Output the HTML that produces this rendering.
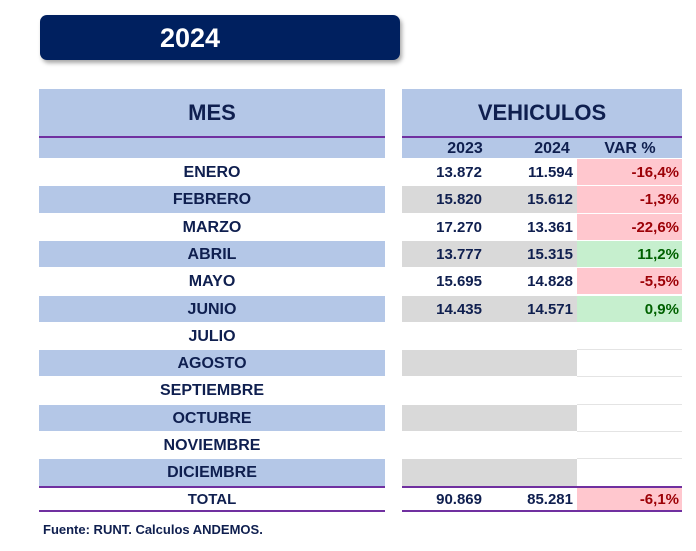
<!DOCTYPE html>
<html><head><meta charset="utf-8"><style>
*{margin:0;padding:0;box-sizing:border-box}
body{width:696px;height:551px;background:#fff;position:relative;overflow:hidden;font-family:"Liberation Sans",sans-serif;font-weight:bold;color:#0f1f4f}
div{position:absolute}
.c{text-align:center}
.r{text-align:right}
</style></head><body>
<div style="left:40px;top:15px;width:360px;height:45px;background:#00205f;border-radius:7px;box-shadow:2px 3px 4px rgba(0,0,0,.35)"></div>
<div style="left:150px;top:20px;width:80px;height:36px;color:#fff;font-size:27px;line-height:36px" class="c">2024</div>

<div style="left:39px;top:89px;width:346px;height:69px;background:#b4c7e7"></div>
<div style="left:39px;top:136px;width:346px;height:2px;background:#7030a0"></div>
<div style="left:39px;top:95px;width:346px;font-size:22px;line-height:36px" class="c">MES</div>

<div style="left:402px;top:89px;width:280px;height:69px;background:#b4c7e7"></div>
<div style="left:402px;top:136px;width:280px;height:2px;background:#7030a0"></div>
<div style="left:402px;top:95px;width:280px;font-size:22px;line-height:36px" class="c">VEHICULOS</div>
<div style="left:425px;top:139px;width:80px;font-size:16px;line-height:20px" class="c">2023</div>
<div style="left:512px;top:139px;width:80px;font-size:16px;line-height:20px" class="c">2024</div>
<div style="left:590px;top:139px;width:80px;font-size:16px;line-height:20px" class="c">VAR %</div>

<div id="rows"></div>
<script>
var m=["ENERO","FEBRERO","MARZO","ABRIL","MAYO","JUNIO","JULIO","AGOSTO","SEPTIEMBRE","OCTUBRE","NOVIEMBRE","DICIEMBRE"];
var d=[["13.872","11.594","-16,4%",0],["15.820","15.612","-1,3%",0],["17.270","13.361","-22,6%",0],["13.777","15.315","11,2%",1],["15.695","14.828","-5,5%",0],["14.435","14.571","0,9%",1]];
var h="",H=27.3,y0=159;
for(var i=0;i<12;i++){var y=y0+i*H;
 if(i%2==1){h+='<div style="left:39px;top:'+y+'px;width:346px;height:'+(H-1)+'px;background:#b4c7e7"></div>';
  h+='<div style="left:402px;top:'+y+'px;width:175px;height:'+(H-1)+'px;background:#d9d9d9"></div>';}
 h+='<div class="c" style="left:39px;top:'+y+'px;width:346px;font-size:16px;line-height:'+H+'px">'+m[i]+'</div>';
 if(i<6){var r=d[i];
  h+='<div style="left:577px;top:'+y+'px;width:105px;height:'+(H-1)+'px;background:'+(r[3]?'#c6efce':'#ffc7ce')+'"></div>';
  h+='<div class="r" style="left:402px;top:'+y+'px;width:80px;font-size:15px;line-height:'+H+'px">'+r[0]+'</div>';
  h+='<div class="r" style="left:490px;top:'+y+'px;width:83px;font-size:15px;line-height:'+H+'px">'+r[1]+'</div>';
  h+='<div class="r" style="left:577px;top:'+y+'px;width:102px;font-size:15px;line-height:'+H+'px;color:'+(r[3]?'#006100':'#9c0006')+'">'+r[2]+'</div>';}
 else {h+='<div style="left:577px;top:'+(y+H-1)+'px;width:105px;height:1px;background:#e4e4e4"></div>';}
}
document.getElementById('rows').outerHTML=h;
</script>
<div style="left:39px;top:486px;width:346px;height:2px;background:#7030a0"></div>
<div style="left:402px;top:486px;width:280px;height:2px;background:#7030a0"></div>
<div style="left:577px;top:488px;width:105px;height:23px;background:#ffc7ce"></div>
<div class="c" style="left:39px;top:488px;width:346px;font-size:15px;line-height:23px">TOTAL</div>
<div class="r" style="left:402px;top:488px;width:80px;font-size:15px;line-height:23px">90.869</div>
<div class="r" style="left:490px;top:488px;width:83px;font-size:15px;line-height:23px">85.281</div>
<div class="r" style="left:577px;top:488px;width:102px;font-size:15px;line-height:23px;color:#9c0006">-6,1%</div>
<div style="left:39px;top:510px;width:346px;height:2px;background:#7030a0"></div>
<div style="left:402px;top:510px;width:280px;height:2px;background:#7030a0"></div>
<div style="left:43px;top:521px;font-size:13px;line-height:18px">Fuente: RUNT. Calculos ANDEMOS.</div>
</body></html>
